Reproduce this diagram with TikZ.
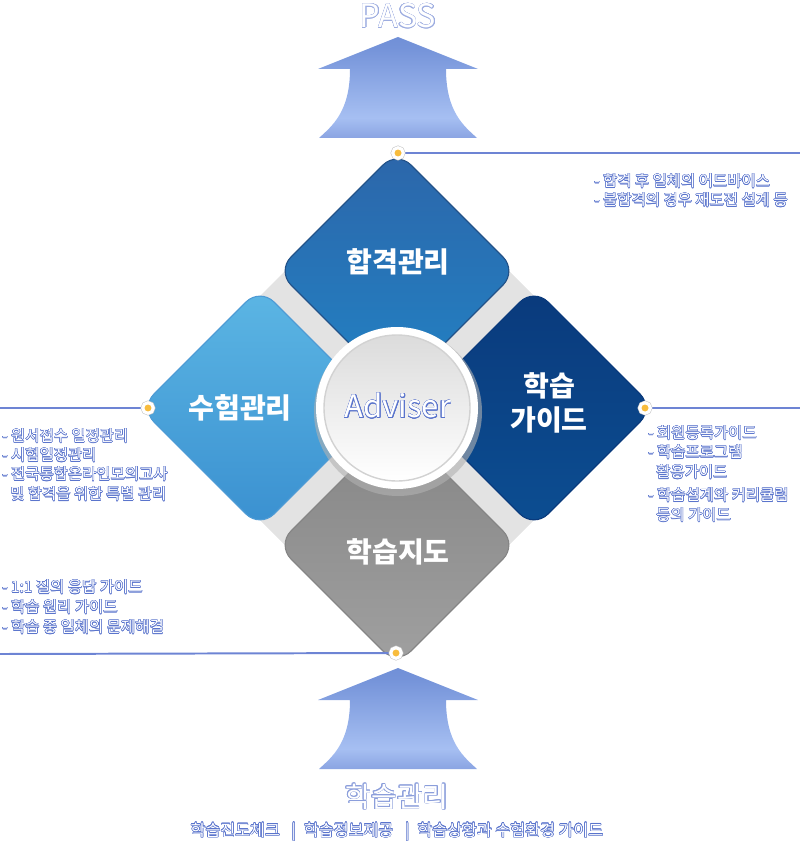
\documentclass[tikz,border=0pt]{standalone}
\usepackage{fontspec}
\setmainfont{Noto Sans CJK KR}
\usepackage{contour}
\contourlength{0.35pt}

\definecolor{passblue}{HTML}{5F80CE}
\definecolor{passlight}{HTML}{A6BFF2}
\definecolor{passdark}{HTML}{4864BC}
\definecolor{leadblue}{HTML}{6D84D4}
\definecolor{noteblue}{HTML}{5A74CC}
\definecolor{dotorange}{HTML}{F8BC3C}
\definecolor{topA}{HTML}{2C66AA}
\definecolor{topB}{HTML}{2282C4}
\definecolor{leftA}{HTML}{5CB6E4}
\definecolor{leftB}{HTML}{3A90D0}
\definecolor{rightA}{HTML}{0A3A7C}
\definecolor{rightB}{HTML}{0C4E92}
\definecolor{botA}{HTML}{858585}
\definecolor{botB}{HTML}{A0A0A0}

\pgfdeclareverticalshading{passfade}{100bp}{
  color(0bp)=(passdark); color(8bp)=(passdark!80!passlight); color(35bp)=(passlight);
  color(70bp)=(passblue!70!passlight); color(100bp)=(passblue)}

\tikzset{
  pane/.style={rounded corners=14pt, line width=0.8pt},
  panetext/.style={text=white, font=\fontsize{20}{24}\selectfont\bfseries, align=center, inner sep=0pt},
  note/.style={anchor=west, text=white, inner sep=0pt, font=\fontsize{11}{13}\selectfont},
  leader/.style={leadblue, line width=1.4pt},
  dotmark/.style={circle, fill=dotorange, draw=white, line width=2.2pt, minimum size=7.5pt, inner sep=0pt,
    preaction={draw=gray!45, line width=3pt}},
  bigword/.style={text=white, inner sep=0pt}
}

\begin{document}
\begin{tikzpicture}[x=0.025cm, y=-0.025cm]
\useasboundingbox (0,0) rectangle (800,846);

\coordinate (O) at (397,408);
\coordinate (T) at (397,271);
\coordinate (L) at (260,408);
\coordinate (R) at (534,408);
\coordinate (B) at (397,545);

% arrows
\foreach \dy in {0,631} {
\begin{scope}[shift={(0,\dy)}]
\shade[shading=passfade]
  (398,37) -- (478,69) -- (446,69) .. controls (446,112) and (464,126) .. (477,138)
  -- (319,138) .. controls (332,126) and (350,112) .. (350,69) -- (318,69) -- cycle;
\end{scope}
}

% leaders
\coordinate (eT) at (800,153);
\coordinate (eL) at (0,408);
\coordinate (eR) at (800,408);
\coordinate (eB) at (0,654);

% gaps between the panes
\fill[gray!22] (285,271) -- (260,296) -- (260,520) -- (285,545) -- (509,545)
  -- (534,520) -- (534,296) -- (509,271) -- cycle;

% panes
\shade[pane, top color=topA, bottom color=topB, draw=topA!80!black]
  (T) ++(0,-120) -- ++(120,120) -- ++(-120,120) -- ++(-120,-120) -- cycle;
\shade[pane, top color=leftA, bottom color=leftB, draw=leftB!90!white]
  (L) ++(0,-120) -- ++(120,120) -- ++(-120,120) -- ++(-120,-120) -- cycle;
\shade[pane, top color=rightA, bottom color=rightB, draw=rightA]
  (R) ++(0,-120) -- ++(120,120) -- ++(-120,120) -- ++(-120,-120) -- cycle;
\shade[pane, top color=botA, bottom color=botB, draw=botA]
  (B) ++(0,-120) -- ++(120,120) -- ++(-120,120) -- ++(-120,-120) -- cycle;

\node[panetext] (tTop) at (398,262) {합격관리};
\node[panetext] (tLeft) at (240,408) {수험관리};
\node[panetext] (tRight) at (549,403) {학습\\가이드};
\node[panetext] (tBot) at (398,552) {학습지도};

% centre
\fill[black!30, opacity=0.6] (398,412) circle (84);
\fill[white] (O) circle (81);
\shade[top color=gray!28, bottom color=white, draw=gray!35, line width=1pt] (O) circle (73);
\node[bigword, font=\fontsize{22}{26}\selectfont] (adv) at (398,406) {\contour{noteblue}{Adviser}};

% dots and leaders
\draw[leader] (398,153) -- (eT);
\draw[leader] (148,408) -- (eL);
\draw[leader] (645,408) -- (eR);
\draw[leader] (396,653) -- (eB);
\node[dotmark] (dT) at (398,153) {};
\node[dotmark] (dL) at (148,408) {};
\node[dotmark] (dR) at (645,408) {};
\node[dotmark] (dB) at (396,653) {};

% notes
\node[note] (n1) at (594,181) {\contour{noteblue}{- 합격 후 일체의 어드바이스}};
\node[note] (n2) at (594,200) {\contour{noteblue}{- 불합격의 경우 재도전 설계 등}};

\node[note] (n3) at (2,436) {\contour{noteblue}{- 원서접수 일정관리}};
\node[note] (n4) at (2,455) {\contour{noteblue}{- 시험일정관리}};
\node[note] (n5) at (2,474) {\contour{noteblue}{- 전국통합온라인모의고사}};
\node[note] (n6) at (10,494) {\contour{noteblue}{및 합격을 위한 특별 관리}};

\node[note] (n7) at (648,433) {\contour{noteblue}{- 회원등록가이드}};
\node[note] (n8) at (648,452) {\contour{noteblue}{- 학습프로그램}};
\node[note] (n9) at (656,472) {\contour{noteblue}{활용가이드}};
\node[note] (n10) at (648,495) {\contour{noteblue}{- 학습설계와 커리큘럼}};
\node[note] (n11) at (656,515) {\contour{noteblue}{등의 가이드}};

\node[note] (n12) at (2,587) {\contour{noteblue}{- 1:1 질의 응답 가이드}};
\node[note] (n13) at (2,607) {\contour{noteblue}{- 학습 원리 가이드}};
\node[note] (n14) at (2,627) {\contour{noteblue}{- 학습 중 일체의 문제해결}};

% titles
\node[bigword, font=\fontsize{23}{26}\selectfont] (pass) at (398,16) {\contour{noteblue!60}{PASS}};
\node[bigword, font=\fontsize{20}{24}\selectfont] (mgmt) at (397,797) {\contour{noteblue!70}{학습관리}};
\node[bigword, font=\fontsize{11.5}{13}\selectfont] (sub) at (397,832)
  {\contour{noteblue}{학습진도체크 \enspace|\enspace 학습정보제공 \enspace|\enspace 학습상황과 수험환경 가이드}};
\end{tikzpicture}
\end{document}
